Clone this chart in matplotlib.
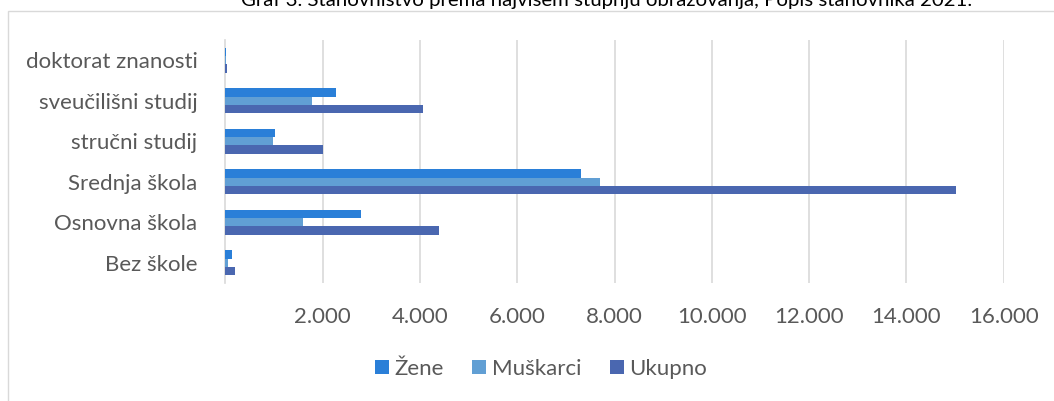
import numpy as np
import matplotlib
matplotlib.use("Agg")
import matplotlib.pyplot as plt
from matplotlib.patches import Rectangle

plt.rcParams['font.family'] = ['Lato', 'DejaVu Sans']

# data (bottom to top)
categories = ["Bez škole", "Osnovna škola", "Srednja škola",
              "stručni studij", "sveučilišni studij", "doktorat znanosti"]
zene = [140, 2782, 7304, 1028, 2275, 12]
muskarci = [60, 1603, 7708, 987, 1782, 18]
ukupno = [205, 4392, 15012, 2014, 4064, 30]
series_names = ["Žene", "Muškarci", "Ukupno"]
colors = ["#2a7fd8", "#619fd4", "#4a67b0"]
xticks = [2000, 4000, 6000, 8000, 10000, 12000, 14000, 16000]
title = "Graf 3. Stanovništvo prema najvišem stupnju obrazovanja, Popis stanovnika 2021."

W, H = 1054, 401
fig = plt.figure(figsize=(W / 100, H / 100), dpi=100)
ax = fig.add_axes([225.4 / W, 1 - 283 / H, (1003.7 - 225.4) / W, (283 - 40) / H])

y = np.arange(len(categories))
h = 0.207
for vals, off, col, name in zip([zene, muskarci, ukupno], [h, 0, -h], colors, series_names):
    ax.barh(y + off, vals, height=h, color=col, label=name, zorder=3)

ax.set_xlim(0, 16000)
ax.set_ylim(-0.5, len(categories) - 0.5)
ax.set_yticks(y)
ax.set_yticklabels(categories)
ax.set_xticks(xticks)
ax.set_xticklabels([f"{v:,}".replace(",", ".") for v in xticks])
ax.tick_params(axis='both', length=0, labelsize=16, colors="#595959")
ax.tick_params(axis='x', pad=17)
ax.tick_params(axis='y', pad=20)
ax.grid(axis='x', color="#d9d9d9", linewidth=1.2, zorder=0)
for s in ["top", "right", "bottom"]:
    ax.spines[s].set_visible(False)
ax.spines["left"].set_color("#d9d9d9")
ax.spines["left"].set_linewidth(1.2)

leg = fig.legend(loc="center", bbox_to_anchor=(541 / W, 1 - 369 / H), ncol=3,
                 frameon=False, fontsize=16, handlelength=0.62, handleheight=0.62,
                 columnspacing=1.3, handletextpad=0.25)
for t in leg.get_texts():
    t.set_color("#595959")

# chart border, partly outside the image
fig.add_artist(Rectangle((7.5 / W, -0.1), 1.2, 1 - 10.5 / H + 0.1, transform=fig.transFigure,
                         fill=False, edgecolor="#d9d9d9", linewidth=1))

fig.text(607 / W, 1 - 6 / H, title, ha="center", va="baseline", fontsize=14.7, color="black")

fig.savefig("out.png", dpi=100)
